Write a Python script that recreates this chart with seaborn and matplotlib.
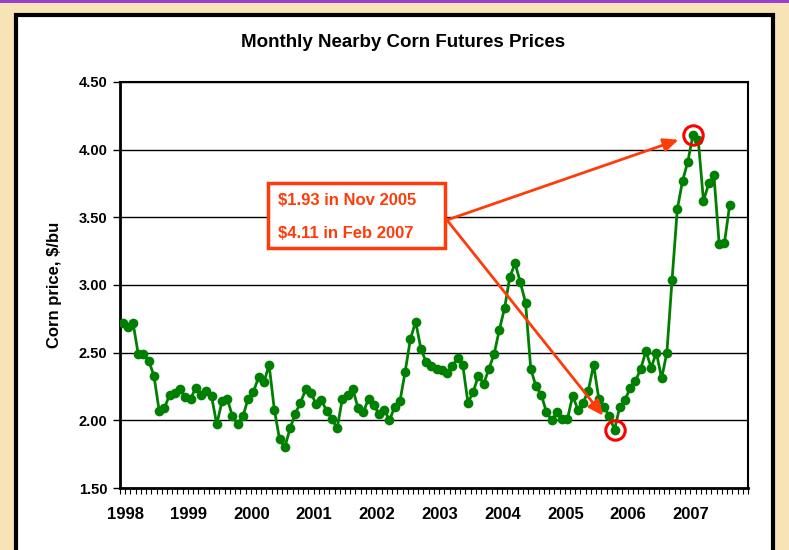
import numpy as np
import pandas as pd
import matplotlib
matplotlib.use('Agg')
import matplotlib.pyplot as plt
import seaborn as sns
from matplotlib.patches import Rectangle

# monthly nearby corn futures, $/bu, Jan 1998 .. Sep 2007
price_1998 = [2.72, 2.69, 2.72, 2.49, 2.49, 2.44, 2.33, 2.07, 2.09, 2.19, 2.20, 2.23]
price_1999 = [2.17, 2.16, 2.24, 2.19, 2.22, 2.18, 1.97, 2.14, 2.16, 2.03, 1.97, 2.03]
price_2000 = [2.16, 2.21, 2.32, 2.28, 2.41, 2.08, 1.86, 1.80, 1.94, 2.05, 2.13, 2.23]
price_2001 = [2.20, 2.12, 2.15, 2.07, 2.01, 1.94, 2.16, 2.19, 2.23, 2.09, 2.06, 2.16]
price_2002 = [2.11, 2.05, 2.08, 2.00, 2.10, 2.14, 2.36, 2.60, 2.73, 2.53, 2.43, 2.40]
price_2003 = [2.38, 2.37, 2.35, 2.40, 2.46, 2.41, 2.13, 2.21, 2.33, 2.27, 2.38, 2.49]
price_2004 = [2.67, 2.83, 3.06, 3.16, 3.02, 2.87, 2.38, 2.25, 2.19, 2.06, 2.00, 2.06]
price_2005 = [2.01, 2.01, 2.18, 2.08, 2.13, 2.22, 2.41, 2.16, 2.10, 2.03, 1.93, 2.10]
price_2006 = [2.15, 2.24, 2.29, 2.38, 2.51, 2.39, 2.50, 2.31, 2.50, 3.04, 3.56, 3.77]
price_2007 = [3.91, 4.11, 4.07, 3.62, 3.75, 3.81, 3.30, 3.31, 3.59]

years = [1998, 1999, 2000, 2001, 2002, 2003, 2004, 2005, 2006, 2007]
yticks = [1.50, 2.00, 2.50, 3.00, 3.50, 4.00, 4.50]
low_idx, low_label = 94, 'Nov 2005'
high_idx, high_label = 109, 'Feb 2007'

price = (price_1998 + price_1999 + price_2000 + price_2001 + price_2002 +
         price_2003 + price_2004 + price_2005 + price_2006 + price_2007)
df = pd.DataFrame({'month': np.arange(len(price)), 'price': price})

sns.set_style('white')
plt.rcParams['font.family'] = ['Liberation Sans', 'DejaVu Sans']
plt.rcParams['font.weight'] = 'bold'
plt.rcParams['text.color'] = 'black'
plt.rcParams['axes.labelcolor'] = 'black'
plt.rcParams['xtick.color'] = 'black'
plt.rcParams['ytick.color'] = 'black'

fig = plt.figure(figsize=(7.89, 5.50), dpi=100)
fig.patch.set_facecolor('#f8e3b6')
# purple strip on top and the white chart frame
fig.patches.append(Rectangle((0, 0.994), 1, 0.006, transform=fig.transFigure,
                             facecolor='#9a3fd0', edgecolor='none', zorder=-2))
fig.patches.append(Rectangle((0.020, -0.05), 0.960, 1.023, transform=fig.transFigure,
                             facecolor='white', edgecolor='black', linewidth=3, zorder=-2))

ax = fig.add_axes([0.152, 0.1127, 0.796, 0.7383])
ax.set_zorder(1)
ax.set_facecolor('white')

sns.lineplot(data=df, x='month', y='price', ax=ax, color='#008000', linewidth=2,
             marker='o', markersize=7, markeredgewidth=0, zorder=3)

ax.set_ylim(1.5, 4.5)
ax.set_xlim(-0.5, 119.5)
ax.set_yticks(yticks, [f'{v:.2f}' for v in yticks], fontsize=10.5, fontweight='bold')
ax.set_xticks([12 * k + 0.6 for k in range(len(years))], [str(y) for y in years],
              fontsize=12, fontweight='bold')
ax.set_xticks(np.arange(-0.5, 120, 1), minor=True)
ax.tick_params(axis='x', which='major', length=0, pad=14)
ax.tick_params(axis='x', which='minor', length=4, width=0.8, direction='out', bottom=True)
ax.tick_params(axis='y', length=5, width=1, direction='out', left=True, pad=4)
ax.grid(axis='y', color='black', linewidth=1)
ax.set_axisbelow(True)
for s in ax.spines.values():
    s.set_color('black')
    s.set_linewidth(1.5)
ax.spines['left'].set_linewidth(2)
ax.spines['bottom'].set_linewidth(2)

ax.set_xlabel('')
ax.set_ylabel('Corn price, \\$/bu', fontsize=12, fontweight='bold', labelpad=12)
fig.text(0.511, 0.922, 'Monthly Nearby Corn Futures Prices', ha='center', va='center',
         fontsize=13.5, fontweight='bold')

# red circles on the low and the high
ax.plot([low_idx, high_idx], [price[low_idx], price[high_idx]], 'o', markersize=14,
        markerfacecolor='none', markeredgecolor='#ff0000', markeredgewidth=2.2, zorder=4)

red = '#ff3b0a'
ax.add_patch(Rectangle((0.2357, 0.591), 0.2818, 0.160, transform=ax.transAxes,
                       facecolor='white', edgecolor=red, linewidth=2.5, zorder=5))
ax.text(0.252, 0.709, f'\\${price[low_idx]:.2f} in {low_label}', transform=ax.transAxes,
        color=red, fontsize=12, fontweight='bold', va='center', zorder=6)
ax.text(0.252, 0.626, f'\\${price[high_idx]:.2f} in {high_label}', transform=ax.transAxes,
        color=red, fontsize=12, fontweight='bold', va='center', zorder=6)

for idx, shrink in [(low_idx, 13), (high_idx, 11)]:
    ax.annotate('', xy=(idx, price[idx]), xytext=(0.5207, 0.660),
                textcoords='axes fraction',
                arrowprops=dict(arrowstyle='-|>,head_length=0.9,head_width=0.4',
                                color=red, lw=2, shrinkA=0, shrinkB=shrink),
                zorder=5)

fig.savefig('out.png', dpi=100, facecolor=fig.get_facecolor())
